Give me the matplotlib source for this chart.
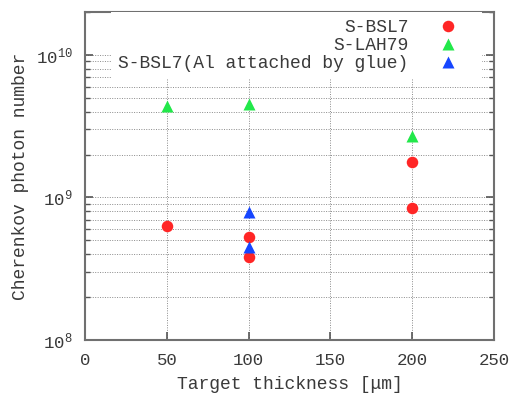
import numpy as np
import matplotlib
matplotlib.use('Agg')
import matplotlib.pyplot as plt
from matplotlib.ticker import LogLocator, FuncFormatter, NullFormatter

plt.rcParams['font.family'] = ['Liberation Mono', 'DejaVu Sans Mono']
plt.rcParams['mathtext.default'] = 'regular'

# data
bsl7_x = [50, 100, 100, 200, 200]
bsl7_y = [6.26e8, 5.30e8, 3.80e8, 1.78e9, 8.41e8]
lah79_x = [50, 100, 200]
lah79_y = [4.38e9, 4.51e9, 2.70e9]
glue_x = [100, 100]
glue_y = [7.85e8, 4.51e8]

labels = ['S-BSL7', 'S-LAH79', 'S-BSL7(Al attached by glue)']
x_ticks = [0, 50, 100, 150, 200, 250]

txt = '#3a3a3a'
fig = plt.figure(figsize=(5.19, 3.94), dpi=100)
ax = fig.add_axes([0.1638, 0.137, 0.788, 0.8325])

ax.plot(bsl7_x, bsl7_y, 'o', color='#ff2626', ms=8.3, mec='none', label=labels[0], zorder=3)
ax.plot(lah79_x, lah79_y, '^', color='#22e84a', ms=8, mec='none', label=labels[1], zorder=3)
ax.plot(glue_x, glue_y, '^', color='#1646ff', ms=8, mec='none', label=labels[2], zorder=3)

ax.set_yscale('log')
ax.set_xlim(0, 250)
ax.set_ylim(1e8, 2e10)
ax.set_xticks(x_ticks)
ax.yaxis.set_major_locator(LogLocator(base=10))
ax.yaxis.set_minor_locator(LogLocator(base=10, subs=np.arange(2, 10)))
ax.yaxis.set_minor_formatter(NullFormatter())
ax.yaxis.set_major_formatter(FuncFormatter(lambda v, p: r'$10^{%d}$' % round(np.log10(v))))

# gnuplot-ish grid: dotted, x majors and y majors+minors
ax.grid(True, which='major', axis='x', ls=(0, (1, 1.5)), color='#8a8a8a', lw=0.7)
ax.grid(True, which='both', axis='y', ls=(0, (1, 1.5)), color='#8a8a8a', lw=0.7)
ax.set_axisbelow(True)

ax.tick_params(which='both', direction='in', top=True, right=True, colors='#555555',
               labelcolor=txt, labelsize=12.5)
ax.tick_params(which='major', length=6, width=1.2, pad=9)
ax.tick_params(which='minor', length=3.5, width=1.0)
for s in ax.spines.values():
    s.set_color('#707070')
    s.set_linewidth(1.5)

ax.set_xlabel('Target thickness [μm]', fontsize=13, color=txt, labelpad=6)
ax.set_ylabel('Cherenkov photon number', fontsize=13, color=txt, labelpad=5)

leg = ax.legend(loc='upper right', bbox_to_anchor=(0.971, 1.0), markerfirst=False,
                fontsize=13, frameon=True, fancybox=False, framealpha=1,
                borderaxespad=0, handletextpad=0.67, handlelength=3,
                labelspacing=0.05, borderpad=0.4)
leg.get_frame().set_edgecolor('none')
for t in leg.get_texts():
    t.set_color(txt)

fig.savefig('out.png', dpi=100)
